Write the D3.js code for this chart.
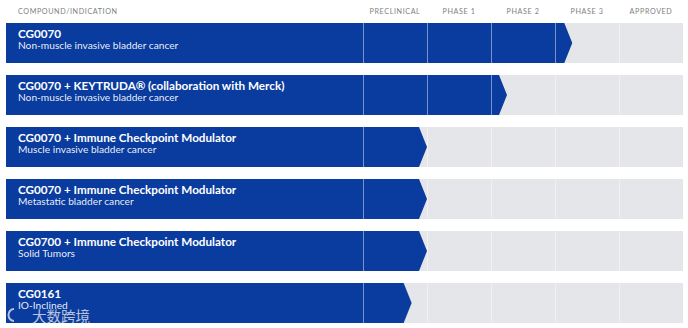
<!DOCTYPE html>
<html><head><meta charset="utf-8">
<script src="https://cdn.jsdelivr.net/npm/d3@7"></script>
<style>html,body{margin:0;padding:0;background:#fff;}svg{display:block;}</style>
</head><body>
<script>
const phases = ["PRECLINICAL", "PHASE 1", "PHASE 2", "PHASE 3", "APPROVED"];
const compounds = [
  "CG0070",
  "CG0070 + KEYTRUDA\u00AE (collaboration with Merck)",
  "CG0070 + Immune Checkpoint Modulator",
  "CG0070 + Immune Checkpoint Modulator",
  "CG0700 + Immune Checkpoint Modulator",
  "CG0161"
];
const indications = [
  "Non-muscle invasive bladder cancer",
  "Non-muscle invasive bladder cancer",
  "Muscle invasive bladder cancer",
  "Metastatic bladder cancer",
  "Solid Tumors",
  "IO-Inclined"
];
// progress through the phase columns (in phase units, to arrow tip)
const progress = [3.27, 2.25, 1.0, 1.0, 1.0, 0.76];
const headerLabel = "COMPOUND/INDICATION";
const watermark = "大数跨境";

const W = 688, H = 328;
const blue = "#0a3ca0", gray = "#e5e6e9";
const svg = d3.select("body").append("svg").attr("width", W).attr("height", H);

const x = d3.scaleLinear().domain([0, phases.length]).range([363, 683]);
const y = d3.scaleBand().domain(d3.range(compounds.length)).range([23, 323]).paddingInner(12/52).paddingOuter(0);
const left = 6, tip = 8;

// header
svg.append("text").attr("x", 18).attr("y", 13.5).text(headerLabel)
  .attr("font-family", "Lato, sans-serif").attr("font-size", 7.2).attr("letter-spacing", 0.6).attr("fill", "#7d7f84");
svg.selectAll("text.ph").data(phases).join("text").attr("class", "ph")
  .attr("x", (d, i) => x(i + 0.5)).attr("y", 13.5).attr("text-anchor", "middle")
  .attr("font-family", "Lato, sans-serif").attr("font-size", 7.2).attr("letter-spacing", 0.6).attr("fill", "#7d7f84")
  .text(d => d);

const rows = svg.selectAll("g.row").data(compounds).join("g").attr("class", "row")
  .attr("transform", (d, i) => `translate(0,${y(i)})`);
const bh = y.bandwidth();

rows.append("rect").attr("x", left).attr("y", 0).attr("width", x.range()[1] - left).attr("height", bh).attr("fill", gray);
rows.append("path").attr("fill", blue).attr("d", (d, i) => {
  const t = x(progress[i]);
  return `M${left},0H${t - tip}L${t},${bh/2}L${t - tip},${bh}H${left}Z`;
});
rows.selectAll("line").data(d3.range(phases.length)).join("line")
  .attr("x1", i => x(i) + 0.5).attr("x2", i => x(i) + 0.5).attr("y1", 0).attr("y2", bh)
  .attr("stroke", "#fff").attr("stroke-opacity", 0.45).attr("stroke-width", 1);

rows.append("text").attr("x", 18).attr("y", 15).attr("fill", "#fff")
  .attr("font-family", "Lato, sans-serif").attr("font-weight", "bold").attr("font-size", 11.7)
  .text(d => d);
rows.append("text").attr("x", 18).attr("y", 26.3).attr("fill", "#fff").attr("fill-opacity", 0.92)
  .attr("font-family", "Lato, sans-serif").attr("font-size", 10.2)
  .text((d, i) => indications[i]);

// watermark
const wm = svg.append("g").attr("opacity", 0.75);
wm.append("path").attr("d", "M14,309 A5.5,6 0 1 0 14,321").attr("fill", "none").attr("stroke", "#eee").attr("stroke-width", 2);
wm.append("text").attr("x", 32).attr("y", 321.5).attr("font-family", "Noto Sans CJK SC").attr("font-size", 14.5)
  .attr("fill", "#f2f2f2").text(watermark);
</script>
</body></html>
